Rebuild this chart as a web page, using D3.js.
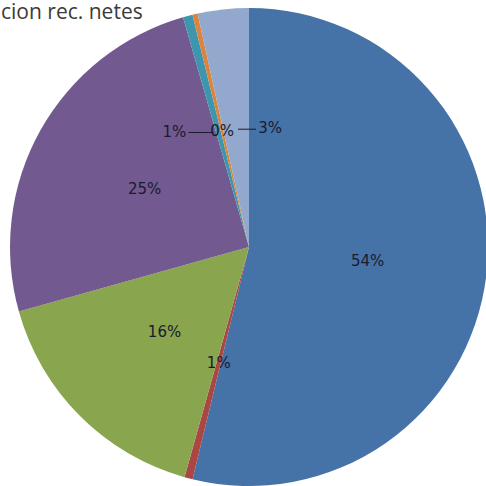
<!DOCTYPE html>
<html><head><meta charset="utf-8">
<script src="https://cdn.jsdelivr.net/npm/d3@7"></script>
<style>body{margin:0;background:#fff}svg{display:block}</style>
</head><body>
<svg id="c" width="486" height="486"></svg>
<script>
const categories = ["A","B","C","D","E","F","G"];
const values = [53.8, 0.55, 16.3, 24.9, 0.65, 0.35, 3.45];
const labels = ["54%","1%","16%","25%","1%","0%","3%"];
const colors = ["#4572A7","#AA4643","#89A54E","#725990","#3D96AE","#DB843D","#92A8CD"];
const title = "cion rec. netes";

const svg = d3.select("#c");
const cx = 249, cy = 247, R = 239;
const g = svg.append("g").attr("transform", `translate(${cx},${cy})`);
const pie = d3.pie().value(d => d).sort(null);
const arcs = pie(values);
const arc = d3.arc().innerRadius(0).outerRadius(R);
const labelArc = d3.arc().innerRadius(R*0.5).outerRadius(R*0.5);

g.selectAll("path").data(arcs).enter().append("path")
  .attr("d", arc).attr("fill", (d,i) => colors[i]);

// label layout: small slices get shifted apart with leader lines
const shift = {4: -44, 6: 34};
arcs.forEach((d,i) => {
  const [x,y] = labelArc.centroid(d);
  const dx = shift[i] || 0;
  g.append("text").attr("x", x + dx).attr("y", y).attr("dy","0.35em")
    .attr("text-anchor","middle")
    .style("font-family","DejaVu Sans, sans-serif").style("font-size","15px")
    .attr("fill","#1b1b2f").text(labels[i]);
});
// leader lines
[[4, -1], [6, 1]].forEach(([i, dir]) => {
  const [x,y] = labelArc.centroid(arcs[i]);
  g.append("line").attr("x1", x + shift[i] + dir*(-14)).attr("x2", dir<0 ? x-5 : x+2)
    .attr("y1", y+1).attr("y2", y+1).attr("stroke","#1b1b2f").attr("stroke-width",1);
});

svg.append("text").attr("x", 1).attr("y", 19)
  .style("font-family","Open Sans, sans-serif").style("font-size","21px")
  .attr("fill","#3a3a3a").text(title);
</script>
</body></html>
